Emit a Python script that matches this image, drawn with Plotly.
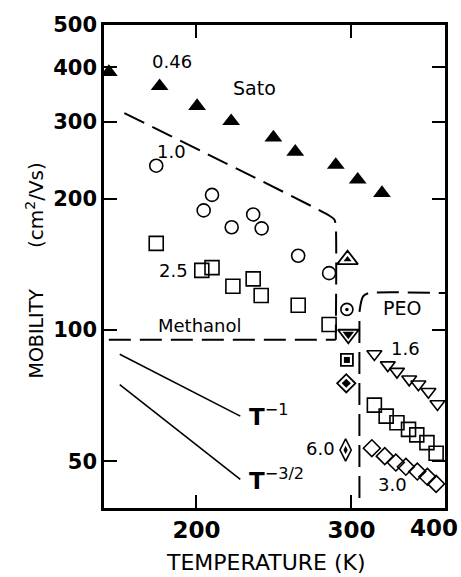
import math
import plotly.graph_objects as go

# ---- data ----
sato_T = [159, 181.6, 200.3, 219, 244.6, 259, 288, 305, 325]
sato_mu = [390, 362, 326, 301, 276, 256, 239, 221, 206]

c10_T = [180, 208.3, 203.8, 219.3, 232, 237.2, 261, 283]
c10_mu = [238, 204, 188, 172, 184, 171, 148, 135]

s25_T = [180, 202.8, 208.3, 220, 232, 236.9, 261, 283]
s25_mu = [158, 137, 139, 126, 131, 120, 114, 103]

# single points near 300 K (outer open symbol + inner filled symbol)
tri_T, tri_mu = [297], [145]
cdot_T, cdot_mu = [296.5], [111.5]
tdn_T, tdn_mu = [297.6], [97.8]
sqd_T, sqd_mu = [296.5], [85.4]
dia_T, dia_mu = [296], [75.5]
tall_T, tall_mu = [295.5], [53.1]

peo16_T = [318.6, 330, 338, 349, 357.5, 367, 375.8]
peo16_mu = [88.1, 83.1, 80.3, 77.1, 75.1, 72.2, 67.7]
peosq_T = [318.6, 328.6, 338, 348.4, 356, 365.6, 374.5]
peosq_mu = [67.3, 63.5, 61.3, 59.2, 57.5, 55.2, 52.2]
peo30_T = [316.5, 327.4, 337, 346, 356.5, 366, 374.5]
peo30_mu = [53.6, 51.4, 49.7, 48.6, 47.4, 46.1, 44.4]

# dashed guide curves
upper_T = [165.6, 283, 287, 288, 288]
upper_mu = [314, 183, 179, 173, 95]
meth_T = [159, 288]
meth_mu = [95, 95]
peo_T = [306.4, 306.4, 306.6, 309.5, 314, 383.3]
peo_mu = [41.2, 100, 111, 119.6, 121.5, 121.5]

# power-law guides
tm1_T = [163.6, 224.3]
tm1_mu = [88, 63.5]
tm32_T = [163.6, 224.3]
tm32_mu = [75, 45.5]

x_ticks = [200, 300]
x_ticktext = ["200", "300"]
y_ticks = [50, 100, 200, 300, 400, 500]
y_ticktext = ["50", "100", "200", "300", "400", "500"]

# ---- figure ----
L, R, T, B = 104, 445, 25, 508
W, H = 461, 577

def px(x):
    return (x - L) / (R - L)

def py(y):
    return (B - y) / (B - T)

fig = go.Figure()

def line(xs, ys, dash=None, width=2):
    fig.add_trace(go.Scatter(x=xs, y=ys, mode="lines",
                             line=dict(color="black", width=width, dash=dash, shape="spline", smoothing=0.6),
                             hoverinfo="skip"))

def pts(xs, ys, symbol, size, lw=1.6):
    fig.add_trace(go.Scatter(x=xs, y=ys, mode="markers",
                             marker=dict(symbol=symbol, size=size, color="black",
                                         line=dict(color="black", width=lw))))

dash = "22px,9px"
line(upper_T, upper_mu, dash)
line(meth_T, meth_mu, dash)
line(peo_T, peo_mu, dash)
line(tm1_T, tm1_mu, None, 1.6)
line(tm32_T, tm32_mu, None, 1.6)

pts(sato_T, sato_mu, "triangle-up", 15.5, 0)
pts(c10_T, c10_mu, "circle-open", 13)
pts(s25_T, s25_mu, "square-open", 14)

pts(tri_T, tri_mu, "triangle-up-open", 18, 1.8)
pts(tri_T, tri_mu, "triangle-up", 7, 0)
pts(cdot_T, cdot_mu, "circle-open", 12)
pts(cdot_T, cdot_mu, "circle", 3.5, 0)
pts(tdn_T, tdn_mu, "triangle-down-open", 18, 1.8)
pts(tdn_T, tdn_mu, "triangle-down", 10, 0)
pts(sqd_T, sqd_mu, "square-open", 12, 1.8)
pts(sqd_T, sqd_mu, "square", 6, 0)
pts(dia_T, dia_mu, "diamond-open", 14, 1.8)
pts(dia_T, dia_mu, "diamond", 7, 0)
pts(tall_T, tall_mu, "diamond-tall-open", 16, 1.6)
pts(tall_T, tall_mu, "diamond-tall", 6, 0)

pts(peo16_T, peo16_mu, "triangle-down-open", 13)
pts(peosq_T, peosq_mu, "square-open", 14)
pts(peo30_T, peo30_mu, "diamond-open", 13)

axis_common = dict(showline=True, linewidth=2.5, linecolor="black", mirror="ticks",
                   ticks="inside", ticklen=13, tickwidth=2, tickcolor="black",
                   showgrid=False, zeroline=False)

fig.update_layout(
    width=W, height=H,
    margin=dict(l=L, r=W - R, t=T, b=H - B),
    paper_bgcolor="white", plot_bgcolor="white",
    showlegend=False,
    xaxis=dict(type="log", range=[math.log10(157), math.log10(383.3)],
               tickvals=x_ticks, ticktext=x_ticktext,
               tickfont=dict(family="DejaVu Sans", size=23, color="black", weight="bold"),
               **axis_common),
    yaxis=dict(type="log", range=[math.log10(39.1), math.log10(500)],
               tickvals=y_ticks, ticktext=y_ticktext,
               tickfont=dict(family="DejaVu Sans", size=21, color="black", weight="bold"),
               **axis_common),
)

TXT = dict(family="DejaVu Sans", color="black")

def ann(text, x, y, size=18, xanchor="center", yanchor="middle", angle=0, weight="normal"):
    fig.add_annotation(text=text, x=px(x), y=py(y), xref="paper", yref="paper",
                       xanchor=xanchor, yanchor=yanchor, showarrow=False, textangle=angle,
                       font=dict(size=size, weight=weight, **TXT))

ann("0.46", 172, 61, 18)
ann("Sato", 254, 88, 19)
ann("1.0", 171, 151, 18)
ann("2.5", 173, 270, 18)
ann("Methanol", 200, 325, 18)
ann("PEO", 402, 307.5, 19)
ann("1.6", 405, 348, 18)
ann("6.0", 320, 448, 18)
ann("3.0", 392, 484, 18)
ann("<b>T</b><sup>−1</sup>", 247, 415, 23, xanchor="left")
ann("<b>T</b><sup>−3/2</sup>", 247, 479, 23, xanchor="left")

# "400" tick label at right end of axis
ann("400", 434, 528, 23, weight="bold")

# axis titles
ann("TEMPERATURE (K)", 266, 562, 22)
ann("MOBILITY", 35, 333.5, 19, angle=-90)
ann("(cm<sup>2</sup>/Vs)", 35, 205, 20, angle=-90)

fig.write_html("out.html", config={"displayModeBar": False},
               post_script="document.body.style.margin='0';document.body.style.padding='0';")
